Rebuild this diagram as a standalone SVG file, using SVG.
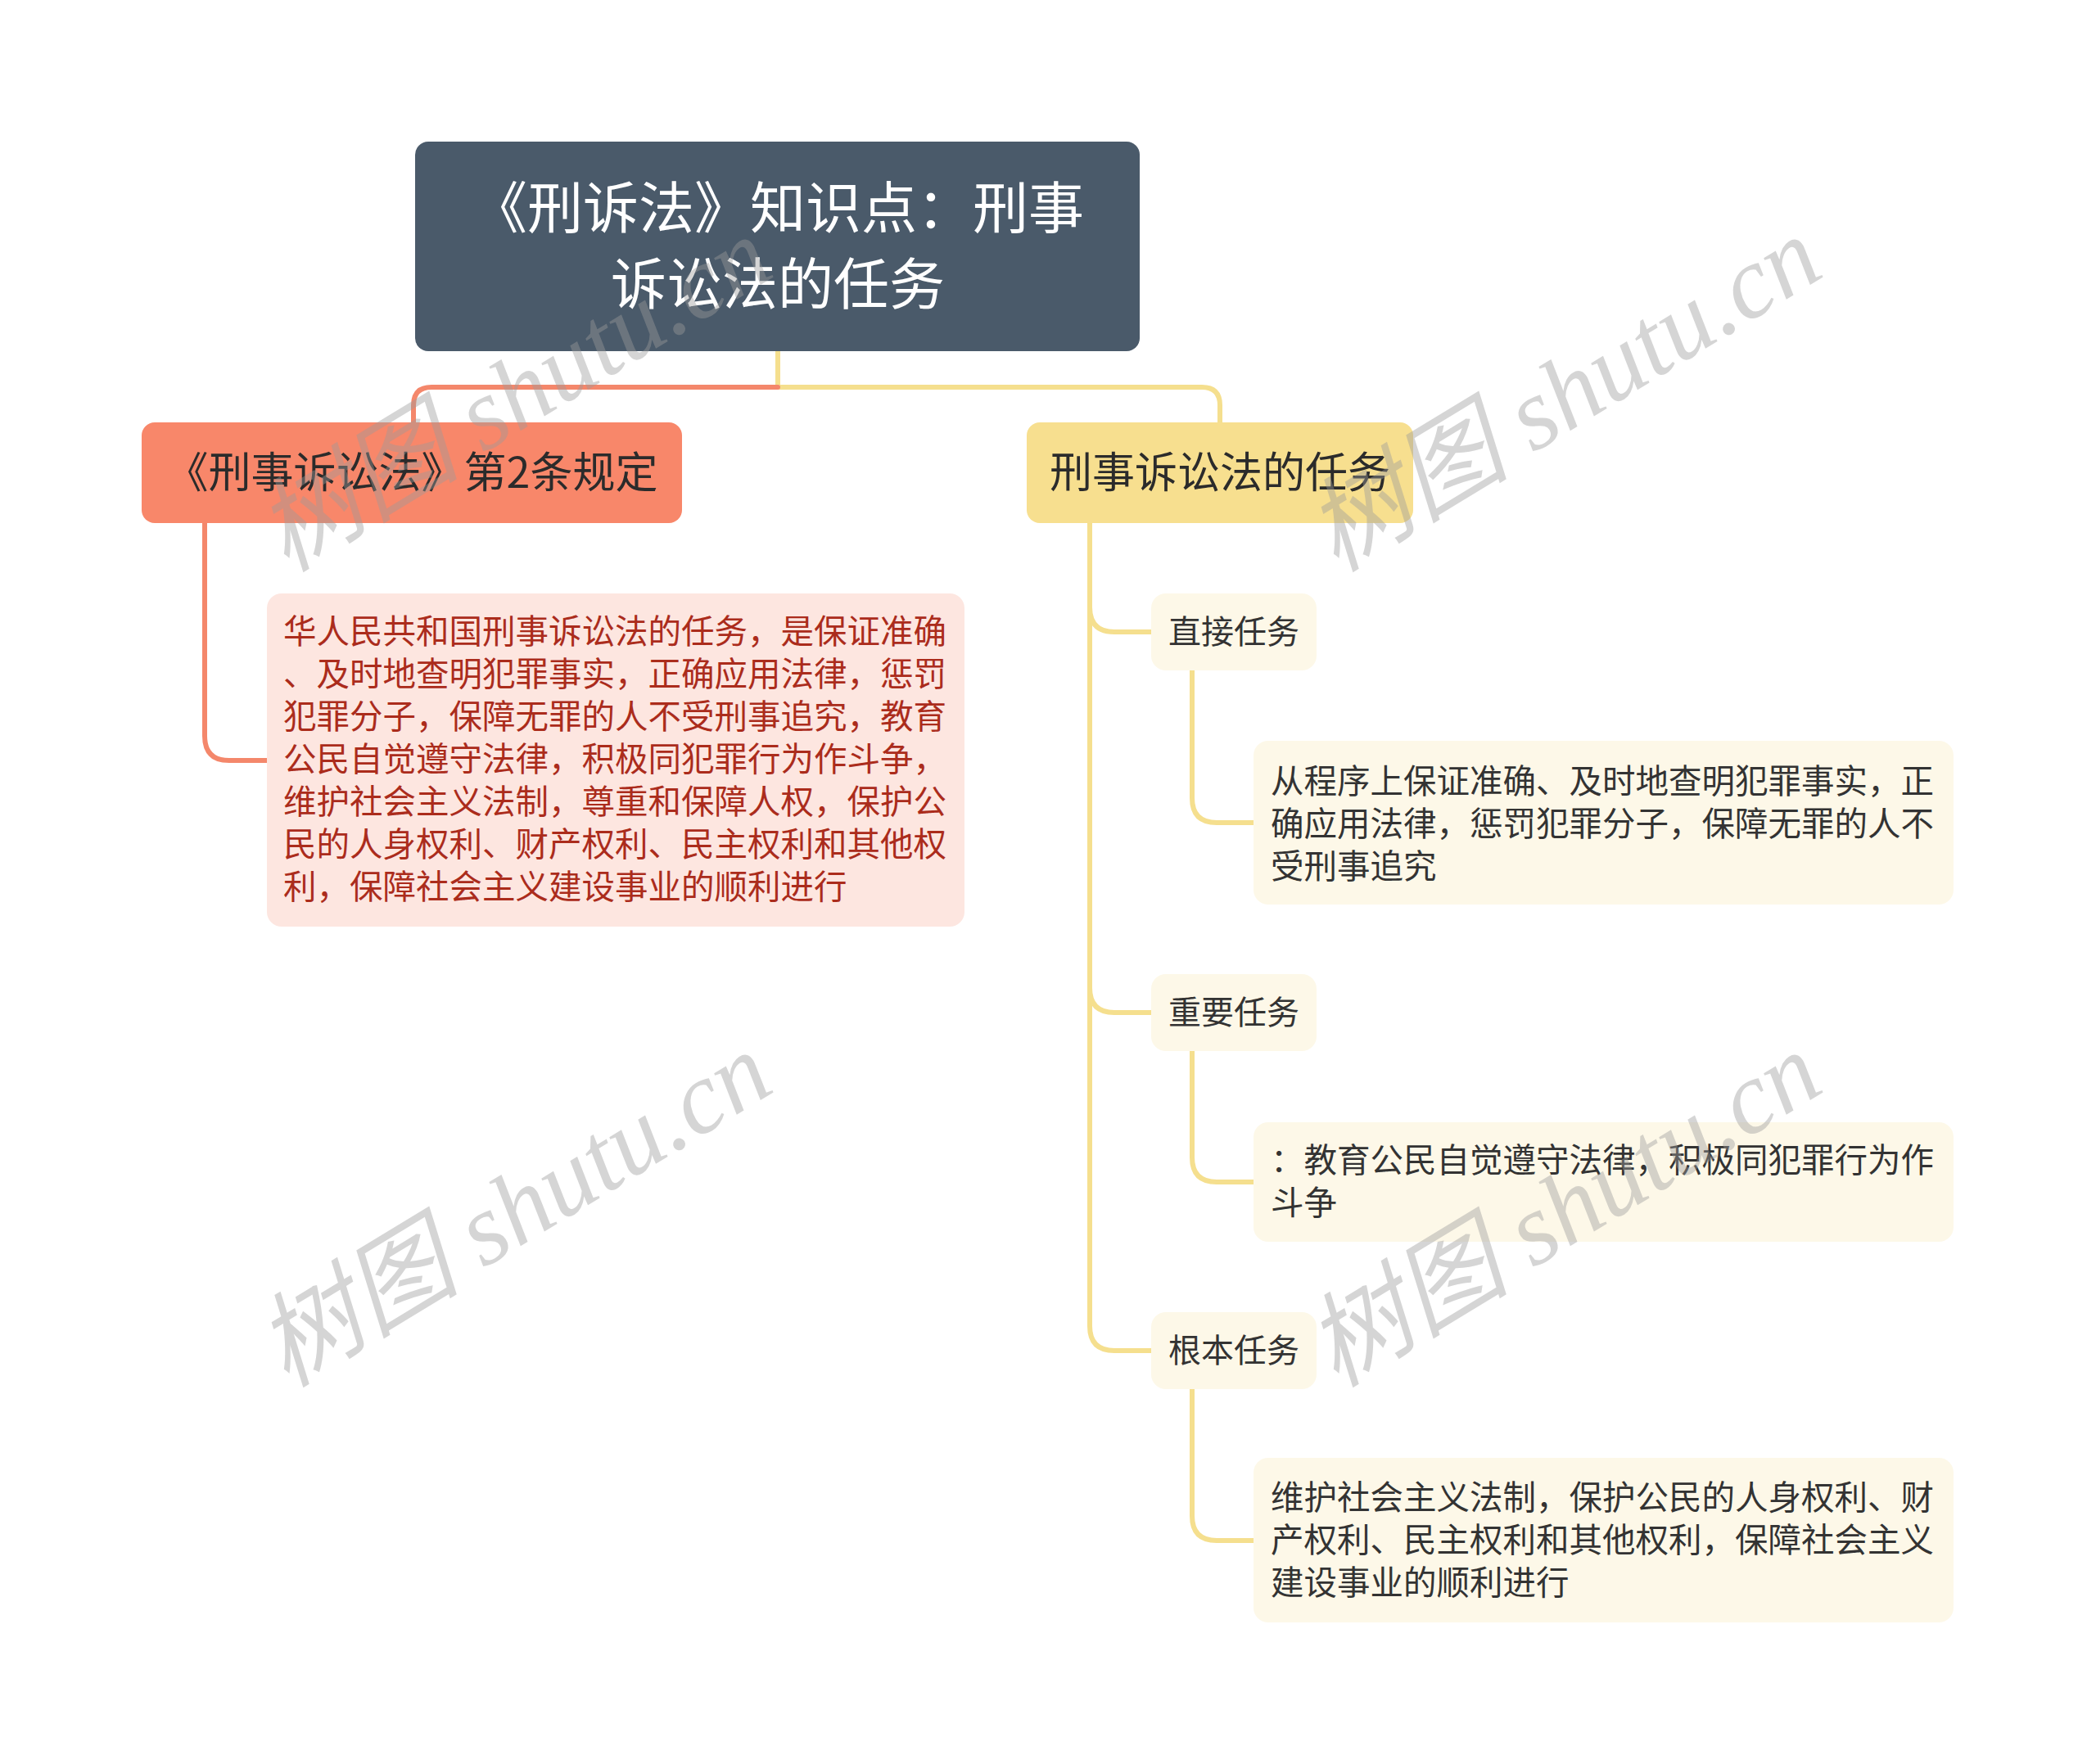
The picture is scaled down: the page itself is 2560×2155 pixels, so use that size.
<svg xmlns="http://www.w3.org/2000/svg" width="2560" height="2155" viewBox="0 0 2560 2155">
<style>
.t{font-family:"Noto Sans CJK SC","Noto Sans",sans-serif}
.root{fill:#4a5a6a}
.rootT{fill:#ffffff;font-size:68px;text-anchor:middle}
.br{font-size:52px;fill:#2b2b2b;text-anchor:middle}
.sub{fill:#fdf8e8}
.subT{font-size:40px;fill:#333333;text-anchor:middle}
.leafT{font-size:40.5px;fill:#333333}
.leafR{font-size:40.5px;fill:#ab2c1c}
.cy{fill:none;stroke:#f5df8e;stroke-width:6;stroke-linecap:round}
.cs{fill:none;stroke:#f4876b;stroke-width:6;stroke-linecap:round}
.wm{font-family:"Liberation Serif","Noto Sans CJK SC",serif;font-size:125px;fill:#9a9a9a;fill-opacity:0.42;font-style:italic}
</style>
<rect width="2560" height="2155" fill="#ffffff"/>
<g id="connectors">
<path class="cy" d="M950,429 V473 H1468 Q1490,473 1490,495 V516"/>
<path class="cs" d="M950,473 H527 Q505,473 505,495 V516"/>
<path class="cs" d="M250,639 V899 Q250,929 280,929 H326"/>
<path class="cy" d="M1331,639 V742 Q1331,772 1361,772 H1406"/>
<path class="cy" d="M1331,639 V1207 Q1331,1237 1361,1237 H1406"/>
<path class="cy" d="M1331,639 V1620 Q1331,1650 1361,1650 H1406"/>
<path class="cy" d="M1456,819 V975 Q1456,1005 1486,1005 H1531"/>
<path class="cy" d="M1456,1284 V1414 Q1456,1444 1486,1444 H1531"/>
<path class="cy" d="M1456,1697 V1852 Q1456,1882 1486,1882 H1531"/>
</g>
<g id="root">
<rect class="root" x="507" y="173" width="885" height="256" rx="16"/>
<text class="t rootT" x="950" y="279">《刑诉法》知识点：刑事</text>
<text class="t rootT" x="950" y="372">诉讼法的任务</text>
</g>
<g id="branch-left">
<rect x="173" y="516" width="660" height="123" rx="16" fill="#f8876a"/>
<text class="t br" x="503" y="596">《刑事诉讼法》第2条规定</text>
</g>
<g id="leaf-left">
<rect x="326" y="725" width="852" height="407" rx="18" fill="#fde6e0"/>
<text class="t leafR" x="346" y="786">华人民共和国刑事诉讼法的任务，是保证准确</text>
<text class="t leafR" x="346" y="838">、及时地查明犯罪事实，正确应用法律，惩罚</text>
<text class="t leafR" x="346" y="890">犯罪分子，保障无罪的人不受刑事追究，教育</text>
<text class="t leafR" x="346" y="942">公民自觉遵守法律，积极同犯罪行为作斗争，</text>
<text class="t leafR" x="346" y="994">维护社会主义法制，尊重和保障人权，保护公</text>
<text class="t leafR" x="346" y="1046">民的人身权利、财产权利、民主权利和其他权</text>
<text class="t leafR" x="346" y="1098">利，保障社会主义建设事业的顺利进行</text>
</g>
<g id="branch-right">
<rect x="1254" y="516" width="472" height="123" rx="16" fill="#f7df8f"/>
<text class="t br" x="1490" y="596">刑事诉讼法的任务</text>
</g>
<g id="sub-direct">
<rect class="sub" x="1406" y="725" width="202" height="94" rx="18"/>
<text class="t subT" x="1507" y="786">直接任务</text>
</g>
<g id="leaf-direct">
<rect class="sub" x="1531" y="905" width="855" height="200" rx="18"/>
<text class="t leafT" x="1552" y="969">从程序上保证准确、及时地查明犯罪事实，正</text>
<text class="t leafT" x="1552" y="1021">确应用法律，惩罚犯罪分子，保障无罪的人不</text>
<text class="t leafT" x="1552" y="1073">受刑事追究</text>
</g>
<g id="sub-important">
<rect class="sub" x="1406" y="1190" width="202" height="94" rx="18"/>
<text class="t subT" x="1507" y="1251">重要任务</text>
</g>
<g id="leaf-important">
<rect class="sub" x="1531" y="1371" width="855" height="146" rx="18"/>
<text class="t leafT" x="1552" y="1432">：教育公民自觉遵守法律，积极同犯罪行为作</text>
<text class="t leafT" x="1552" y="1484">斗争</text>
</g>
<g id="sub-fundamental">
<rect class="sub" x="1406" y="1603" width="202" height="94" rx="18"/>
<text class="t subT" x="1507" y="1664">根本任务</text>
</g>
<g id="leaf-fundamental">
<rect class="sub" x="1531" y="1781" width="855" height="201" rx="18"/>
<text class="t leafT" x="1552" y="1844">维护社会主义法制，保护公民的人身权利、财</text>
<text class="t leafT" x="1552" y="1896">产权利、民主权利和其他权利，保障社会主义</text>
<text class="t leafT" x="1552" y="1948">建设事业的顺利进行</text>
</g>
<g id="watermarks">
<text class="wm" transform="translate(350,700) rotate(-31.3)">树图 shutu.cn</text>
<text class="wm" transform="translate(1632,700) rotate(-31.3)">树图 shutu.cn</text>
<text class="wm" transform="translate(350,1696) rotate(-31.3)">树图 shutu.cn</text>
<text class="wm" transform="translate(1632,1696) rotate(-31.3)">树图 shutu.cn</text>
</g>
</svg>
